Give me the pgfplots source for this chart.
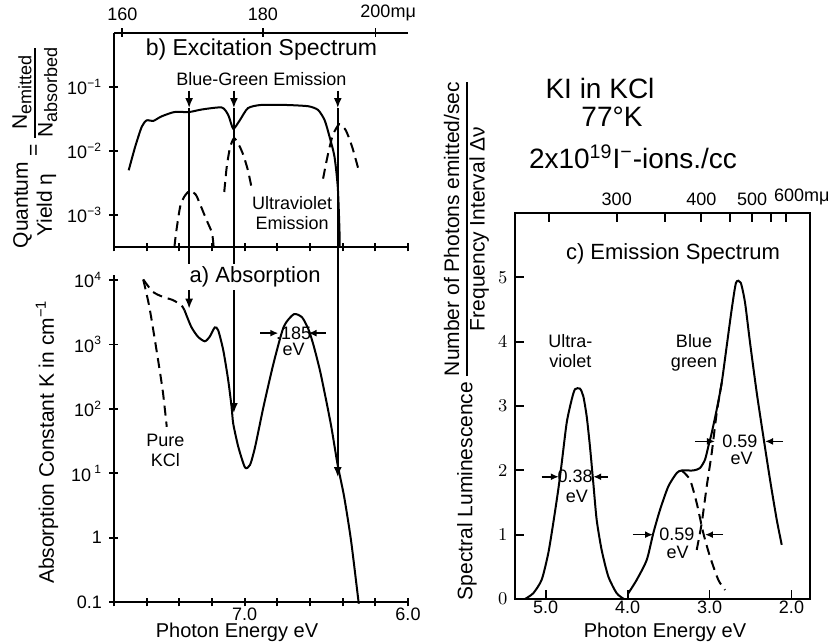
\documentclass[border=0pt]{standalone}
\usepackage{fontspec}
\setmainfont{Liberation Sans}
\usepackage{pgfplots}
\pgfplotsset{compat=1.18}
\usetikzlibrary{arrows.meta}

\pgfplotsset{
  every axis/.append style={line width=0.9pt, tick align=inside, major tick length=4.5pt,
    tick style={line width=0.9pt, black},
    tick label style={font=\fontsize{9}{10}\selectfont}},
  curve/.style={black, line width=1pt, smooth, tension=0.4, mark=none},
  dcurve/.style={black, line width=1pt, smooth, tension=0.4, mark=none, dash pattern=on 5pt off 3pt},
}
\tikzset{ar/.style={-{Latex[length=5pt,width=4pt]}, line width=0.8pt},
  sar/.style={-{Latex[length=4pt,width=3.5pt]}, line width=0.8pt},
  ann/.style={font=\fontsize{9}{10}\selectfont, align=center, inner sep=0pt}}

\begin{document}
\begin{tikzpicture}
\useasboundingbox (0,0) rectangle (420pt,321pt);

% ---------- b) excitation spectrum
\begin{axis}[at={(57pt,197.5pt)}, anchor=south west, scale only axis, width=147pt, height=107pt,
  xmin=6.0, xmax=7.8, x dir=reverse, ymode=log, ymin=3.162e-4, ymax=0.70,
  axis x line=bottom, axis y line=left, axis line style={-},
  xtick={6.0,6.2,6.4,6.6,6.8,7.0,7.2,7.4,7.6,7.8}, xticklabels={,,,,,,,,,},
  ytick={1e-3,1e-2,1e-1},
  yticklabels={10\textsuperscript{−3},10\textsuperscript{−2},10\textsuperscript{−1}},
  yminorticks=false, clip=false]
\addplot[curve] coordinates {
  (7.71,0.0050) (7.67,0.01175) (7.63,0.0240) (7.60,0.0302) (7.56,0.0295) (7.51,0.0347)
  (7.43,0.0407) (7.34,0.0407) (7.26,0.0447) (7.14,0.0479) (7.10,0.0363) (7.07,0.0224)
  (7.03,0.0302) (6.98,0.0468) (6.90,0.0525) (6.75,0.0525) (6.61,0.0501) (6.55,0.0437)
  (6.51,0.0302) (6.48,0.0166) (6.45,0.00813) (6.43,0.00275) (6.42,0.00063) (6.418,0.00032)};
\addplot[dcurve] coordinates {
  (7.43,3.16e-4) (7.42,5.25e-4) (7.395,1.35e-3) (7.369,1.95e-3) (7.335,2.40e-3)
  (7.30,2.09e-3) (7.283,1.70e-3) (7.233,8.3e-4) (7.20,5.25e-4) (7.19,3.16e-4)};
\addplot[dcurve] coordinates {
  (7.125,2.29e-3) (7.11,5.6e-3) (7.09,0.0112) (7.066,0.0158) (7.04,0.0132)
  (7.01,0.0089) (6.98,0.0050) (6.954,0.0024)};
\addplot[dcurve] coordinates {
  (6.52,3.7e-3) (6.49,8.9e-3) (6.46,0.0178) (6.42,0.0263) (6.38,0.0209)
  (6.34,0.0112) (6.30,4.8e-3)};
\node[font=\fontsize{11.5}{12}\selectfont] at (axis cs:6.897,0.38) {b) Excitation Spectrum};
\node[ann] at (axis cs:6.897,0.132) {Blue-Green Emission};
\node[ann] at (axis cs:6.71,1.07e-3) {Ultraviolet\\Emission};
\coordinate (t1) at (axis cs:7.34,0.088);  \coordinate (h1) at (axis cs:7.34,0.047);
\coordinate (t2) at (axis cs:7.066,0.088); \coordinate (h2) at (axis cs:7.066,0.047);
\coordinate (t3) at (axis cs:6.43,0.088);  \coordinate (h3) at (axis cs:6.43,0.047);
\end{axis}
\begin{axis}[at={(57pt,197.5pt)}, anchor=south west, scale only axis, width=147pt, height=107pt,
  xmin=6.0, xmax=7.8, x dir=reverse, ymin=0, ymax=1,
  axis x line=top, axis y line=none, axis line style={-},
  xtick={6.199,6.888,7.749}, xticklabels={200\rlap{mμ},180,160}]
\end{axis}

% ---------- a) absorption
\begin{axis}[at={(57pt,20pt)}, anchor=south west, scale only axis, width=147pt, height=163.5pt,
  xmin=6.0, xmax=7.8, x dir=reverse, ymode=log, ymin=0.1, ymax=12000,
  axis x line=bottom, axis y line=left, axis line style={-},
  xtick={6.0,6.2,6.4,6.6,6.8,7.0,7.2,7.4,7.6,7.8}, xticklabels={6.0,,,,,7.0,,,,},
  xticklabel style={inner sep=0.5pt},
  ytick={0.1,1,10,100,1000,10000},
  yticklabels={0.1,1,10\,\textsuperscript{1},10\textsuperscript{2},10\textsuperscript{3},10\textsuperscript{4}},
  yminorticks=false, clip=false]
\addplot[dcurve] coordinates {
  (7.621,10230) (7.563,6610) (7.502,5500) (7.440,4900) (7.388,4070) (7.368,3390)};
\addplot[curve] coordinates {
  (7.368,3390) (7.327,1880) (7.286,1320) (7.244,1120) (7.214,1320) (7.183,1840)
  (7.162,1660) (7.131,813) (7.101,282) (7.080,107) (7.070,58.9) (7.039,25.7)
  (6.998,12.3) (6.967,13.5) (6.936,25.7) (6.885,107) (6.823,513) (6.761,1880)
  (6.699,2950) (6.648,2630) (6.607,1660) (6.576,923) (6.535,355) (6.473,58.9)
  (6.432,14.1) (6.391,4.32) (6.349,0.912) (6.304,0.107) (6.302,0.1)};
\addplot[dcurve] coordinates {
  (7.621,10230) (7.584,3890) (7.543,923) (7.502,195) (7.477,52.5)};
\node[ann] at (axis cs:7.485,22.4) {Pure\\KCl};
\draw[sar] (axis cs:6.905,1500) -- (axis cs:6.794,1500);
\draw[sar] (axis cs:6.504,1500) -- (axis cs:6.609,1500);
\node[ann] at (axis cs:6.70,1500) {.185};
\node[ann] at (axis cs:6.70,850) {eV};
\coordinate (a1) at (axis cs:7.34,3600);
\coordinate (a2) at (axis cs:7.066,86);
\coordinate (a3) at (axis cs:6.43,8.7);
\coordinate (alab) at (axis cs:6.936,11200);
\end{axis}

% ---------- c) emission spectrum
\begin{axis}[at={(257.5pt,21.5pt)}, anchor=south west, scale only axis, width=147.5pt, height=193pt,
  xmin=1.774, xmax=5.375, x dir=reverse, ymin=0, ymax=6,
  xtick={2,3,4,5}, xticklabels={2.0,3.0,4.0,5.0}, ytick={0,1,2,3,4,5},
  xticklabel style={inner sep=0.5pt},
  xtick pos=left, ytick pos=left, clip=false]
\addplot[curve] coordinates {
  (5.253,0) (5.152,0.09) (5.049,0.30) (4.969,0.71) (4.908,1.18) (4.847,1.70)
  (4.805,2.11) (4.744,2.74) (4.683,3.10) (4.643,3.26) (4.582,3.27) (4.541,3.15)
  (4.500,2.84) (4.460,2.37) (4.419,1.80) (4.378,1.23) (4.317,0.76) (4.236,0.35)
  (4.134,0.09) (4.045,0)};
\addplot[curve] coordinates {
  (3.992,0.089) (3.890,0.296) (3.767,0.607) (3.687,1.023) (3.605,1.386) (3.504,1.749)
  (3.401,1.958) (3.340,1.998) (3.198,1.998) (3.117,2.036) (3.056,2.165) (3.015,2.372)
  (2.974,2.581) (2.913,2.944) (2.852,3.360) (2.791,3.930) (2.730,4.502) (2.677,4.917)
  (2.620,4.917) (2.567,4.606) (2.506,3.983) (2.424,3.204) (2.344,2.528) (2.262,1.854)
  (2.180,1.231) (2.119,0.841)};
\addplot[dcurve] coordinates {
  (3.340,1.998) (3.239,1.854) (3.157,1.491) (3.076,1.023) (2.995,0.659) (2.893,0.296) (2.811,0.140)};
\addplot[dcurve] coordinates {
  (3.157,0.763) (3.096,1.179) (3.035,1.749) (2.974,2.269) (2.913,2.893) (2.852,3.360)};
\node[font=\fontsize{11}{12}\selectfont] at (axis cs:3.446,5.37) {c) Emission Spectrum};
\node[ann] at (axis cs:4.70,3.85) {Ultra-\\violet};
\node[ann] at (axis cs:3.19,3.83) {Blue\\green};
\draw[sar] (axis cs:5.05,1.90) -- (axis cs:4.84,1.90);
\draw[sar] (axis cs:4.24,1.90) -- (axis cs:4.42,1.90);
\node[ann] at (axis cs:4.64,1.90) {0.38};
\node[ann] at (axis cs:4.62,1.59) {eV};
\draw[sar] (axis cs:3.935,1.0) -- (axis cs:3.69,1.0);
\draw[sar] (axis cs:2.836,1.0) -- (axis cs:3.056,1.0);
\node[ann] at (axis cs:3.40,1.0) {0.59};
\node[ann] at (axis cs:3.39,0.73) {eV};
\draw[sar] (axis cs:3.178,2.45) -- (axis cs:2.934,2.45);
\draw[sar] (axis cs:2.103,2.45) -- (axis cs:2.323,2.45);
\node[ann] at (axis cs:2.63,2.45) {0.59};
\node[ann] at (axis cs:2.61,2.18) {eV};
\end{axis}
\begin{axis}[at={(257.5pt,21.5pt)}, anchor=south west, scale only axis, width=147.5pt, height=193pt,
  xmin=1.774, xmax=5.375, x dir=reverse, ymin=0, ymax=6,
  xtick={2.066,2.254,2.480,2.755,3.100,3.542,4.133,4.959},
  xticklabels={\hspace{3pt}600\rlap{mμ},,500\hspace{2pt},,400,,300,},
  xtick pos=right, xticklabel pos=right, ytick=\empty]
\end{axis}

% ---------- arrows linking b) and a)
\draw[ar] (t1) -- (h1); \draw[ar] (h1) -- (a1);
\draw[ar] (t2) -- (h2); \draw[ar] (h2) -- (a2);
\draw[ar] (t3) -- (h3); \draw[ar] (h3) -- (a3);
\node[fill=white, inner sep=1.5pt, font=\fontsize{11}{12}\selectfont] at (alab) {a) Absorption};

% ---------- axis titles and legend text
\node[rotate=90, font=\fontsize{10.5}{12}\selectfont] at (17.5pt,247pt)
  {\setlength{\arrayrulewidth}{0.8pt}\begin{tabular}{@{}c@{}}Quantum\\Yield η\end{tabular} = \begin{tabular}{@{}c@{}}N\raisebox{-0.4ex}{\fontsize{9}{9}\selectfont emitted}\\\hline N\raisebox{-0.4ex}{\fontsize{9}{9}\selectfont absorbed}\end{tabular}};
\node[rotate=90, font=\fontsize{10.5}{12}\selectfont] at (23.5pt,100pt) {Absorption Constant K in cm\textsuperscript{−1}};
\node[inner sep=0pt, font=\fontsize{10}{12}\selectfont] at (118.5pt,4.7pt) {Photon Energy eV};
\node[inner sep=0pt, font=\fontsize{10}{12}\selectfont] at (332.5pt,4.7pt) {Photon Energy eV};
\node[rotate=90, font=\fontsize{10.5}{12}\selectfont] at (233.5pt,150.5pt)
  {\setlength{\arrayrulewidth}{0.8pt}Spectral Luminescence \begin{tabular}{@{}c@{}}Number of Photons emitted/sec\\\hline Frequency Interval Δν\end{tabular}};
\node[font=\fontsize{14}{16}\selectfont] at (300pt,277pt) {KI in KCl};
\node[font=\fontsize{14}{16}\selectfont] at (306pt,262.5pt) {77°K};
\node[font=\fontsize{14}{16}\selectfont] at (316.5pt,242.5pt) {2x10\textsuperscript{19}I\textsuperscript{−}-ions./cc};
\end{tikzpicture}
\end{document}
